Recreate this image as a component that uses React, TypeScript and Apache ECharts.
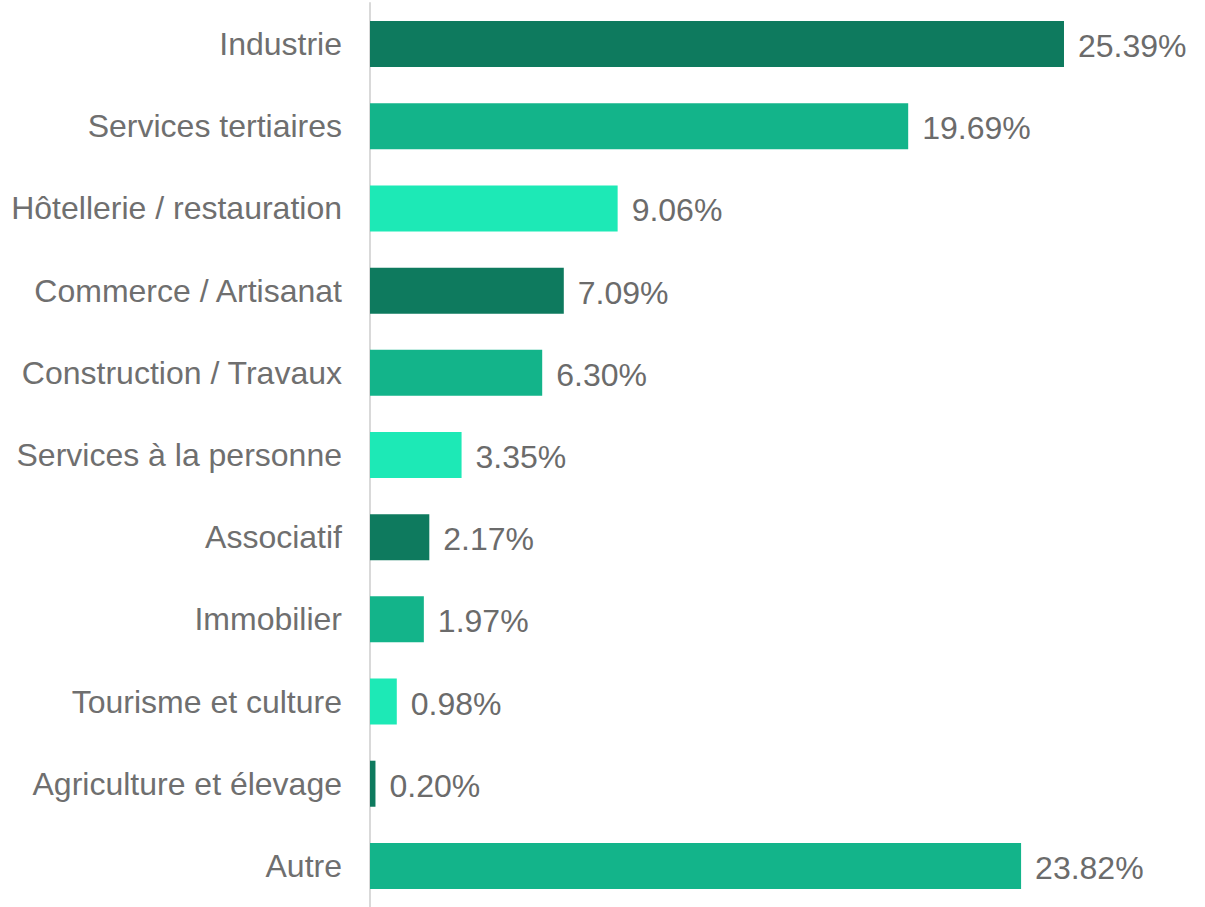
import React, { useEffect, useRef } from "react";
import * as echarts from "echarts";

const categories = [
  "Industrie",
  "Services tertiaires",
  "Hôtellerie / restauration",
  "Commerce / Artisanat",
  "Construction / Travaux",
  "Services à la personne",
  "Associatif",
  "Immobilier",
  "Tourisme et culture",
  "Agriculture et élevage",
  "Autre",
];
const values = [25.39, 19.69, 9.06, 7.09, 6.3, 3.35, 2.17, 1.97, 0.98, 0.2, 23.82];
const palette = ["#0E7A5E", "#13B48A", "#1DE9B6"];

export default function App() {
  const ref = useRef<HTMLDivElement>(null);
  useEffect(() => {
    if (!ref.current) return;
    const chart = echarts.init(ref.current, undefined, { renderer: "svg" });
    chart.setOption({
      animation: false,
      backgroundColor: "#ffffff",
      textStyle: { fontFamily: "Liberation Sans, Arial, sans-serif" },
      grid: { left: 370, right: 15, top: 3, bottom: 0 },
      xAxis: {
        type: "value",
        min: 0,
        max: 30,
        show: false,
      },
      yAxis: {
        type: "category",
        data: categories,
        inverse: true,
        axisLine: { show: true, lineStyle: { color: "#d9d9d9", width: 2 } },
        axisTick: { show: false },
        axisLabel: {
          margin: 28,
          fontSize: 32,
          color: "#6f6f6f",
          fontFamily: "Liberation Sans, Arial, sans-serif",
        },
      },
      series: [
        {
          type: "bar",
          data: values.map((v, i) => ({
            value: v,
            itemStyle: { color: palette[i % 3] },
          })),
          barCategoryGap: "44%",
          label: {
            show: true,
            position: "right",
            distance: 14,
            offset: [0, 2],
            fontSize: 32,
            color: "#6b6b6b",
            fontFamily: "Liberation Sans, Arial, sans-serif",
            formatter: (p: any) => p.value.toFixed(2) + "%",
          },
        },
      ],
    });
    return () => chart.dispose();
  }, []);
  return (
    <div
      ref={ref}
      style={{ position: "fixed", left: 0, top: 0, width: 1205, height: 907 }}
    />
  );
}
